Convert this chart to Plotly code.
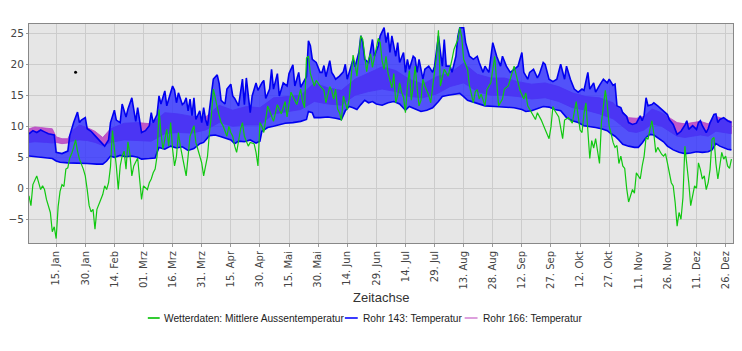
import pandas as pd
import plotly.graph_objects as go

BASE = pd.Timestamp("2011-01-01")

# ---- Rohr 143 (blue band): upper and lower envelope, (day-of-year, °C)
r143_top_day = [0,2,4,6,8,10,13,14,17,20,21,22,23,25,26,27,29,30,32,34,36,38,39,41,42,44,45,47,48,50,51,53,54,55,56,57,58,60,62,63,64,66,67,68,70,71,72,74,75,76,77,79,80,81,82,83,84,85,86,88,89,90,91,92,94,95,97,98,99,101,102,104,105,106,108,110,111,112,114,115,117,118,120,121,122,124,125,126,128,129,131,133,134,136,137,139,140,142,143,144,145,146,148,150,151,152,153,155,156,157,158,160,162,163,164,165,167,168,170,171,172,173,175,177,178,180,181,183,184,185,186,187,189,190,191,193,194,195,196,198,199,200,201,203,204,206,208,209,211,212,213,214,215,217,218,220,221,222,224,225,227,229,231,232,234,235,237,239,241,243,244,246,248,250,252,254,255,257,258,260,262,263,265,266,268,270,272,274,276,277,279,281,283,285,286,288,289,291,292,294,296,298,299,301,302,303,305,306,308,309,311,313,315,316,317,318,319,321,322,324,326,327,329,330,332,334,336,338,339,340,342,344,345,346,347,349,350,351,353,354,355,356,358,360,362]
r143_top_val = [8.8,9.3,9.0,9.4,9.1,8.8,8.6,5.8,5.6,6.0,8.5,9.8,10.6,12.3,10.6,11.0,11.4,9.6,9.2,8.5,7.8,7.2,6.8,7.8,10.6,12.6,11.0,10.6,13.6,11.5,12.8,14.6,12.3,10.8,13.0,11.0,9.0,9.3,10.1,12.2,10.6,11.9,14.9,13.6,15.7,13.3,14.3,16.5,15.8,13.8,15.4,13.5,13.8,14.6,12.5,14.4,11.7,14.6,11.1,12.5,10.6,13.0,11.1,10.1,15.2,17.6,18.3,16.9,14.2,13.6,16.0,16.8,14.9,14.5,13.3,17.6,13.5,17.8,12.2,14.9,17.0,15.8,17.0,17.4,14.5,16.0,19.2,16.0,18.5,14.9,17.0,16.5,18.5,19.9,16.5,18.7,16.3,17.6,18.0,23.8,23.0,20.8,20.3,18.7,18.7,19.8,18.0,20.6,18.7,18.2,17.6,18.1,18.8,20.0,17.6,18.7,20.8,19.6,21.9,24.6,23.5,20.8,20.3,24.0,21.3,23.0,24.6,25.9,23.5,25.1,21.9,24.6,21.3,23.5,20.3,21.9,18.7,20.8,19.2,21.3,21.0,18.7,20.8,17.6,19.2,19.7,18.7,19.7,24.6,22.0,19.7,24.0,19.7,19.7,18.7,21.3,24.5,25.9,25.9,23.5,21.3,20.8,21.3,20.3,18.7,19.7,18.7,23.5,21.3,19.7,21.3,19.7,18.7,19.2,19.7,21.9,18.7,17.6,18.7,19.2,17.8,18.4,20.3,20.0,17.6,17.2,17.6,20.0,17.6,19.7,17.6,16.0,15.5,16.0,15.8,18.7,16.0,17.0,15.5,16.6,17.6,17.0,17.6,16.6,16.8,13.3,13.0,12.2,11.6,10.6,10.3,10.5,11.7,10.9,11.8,14.6,13.3,13.5,13.8,13.3,12.8,12.5,11.9,11.1,10.3,8.7,9.2,10.2,10.9,9.5,10.1,9.5,10.6,10.9,10.1,9.0,9.6,10.6,11.9,12.0,10.6,11.1,11.4,10.9,10.6]

r143_low_day = [0,4,8,12,14,16,20,25,30,35,38,40,42,44,47,50,53,56,58,62,65,66,67,70,73,76,79,82,85,88,90,93,96,99,102,104,106,108,111,114,117,119,120,123,126,129,132,136,140,143,144,146,147,150,154,158,161,163,165,167,169,171,173,175,177,179,182,185,188,191,193,194,196,199,202,205,208,211,213,216,219,222,224,226,229,232,235,240,245,250,254,256,259,262,265,268,271,274,277,280,283,286,289,292,295,298,300,302,304,306,309,312,314,316,318,320,322,325,327,329,332,335,338,341,344,347,350,352,354,356,358,360,362]
r143_low_val = [5.2,5.1,5.0,4.8,4.4,4.2,4.1,4.1,4.0,3.9,3.9,4.4,5.2,5.0,5.3,5.1,5.2,5.0,4.7,4.8,4.9,5.8,6.6,6.3,6.8,6.5,6.7,6.1,6.4,7.2,7.4,8.5,8.6,8.3,8.0,7.8,7.2,7.6,7.5,7.8,7.3,7.6,9.2,9.8,10.0,10.3,10.5,10.6,10.8,11.1,12.4,12.2,11.4,11.4,11.5,11.3,11.1,12.5,13.2,13.0,12.7,13.5,14.2,13.8,14.0,13.6,13.4,13.8,14.0,13.6,13.0,12.6,13.2,12.8,12.4,12.6,13.0,14.0,14.8,15.0,15.2,15.3,14.8,14.2,13.9,13.6,13.3,13.2,13.1,13.0,12.7,12.4,12.5,12.8,13.2,13.1,12.7,12.5,11.4,10.9,10.6,10.1,10.0,9.8,9.6,9.3,8.8,8.4,7.8,7.1,6.8,6.6,6.6,7.3,8.2,8.7,8.6,7.9,7.5,6.8,6.2,5.8,5.6,5.7,5.9,5.8,5.9,6.2,7.2,6.8,6.5,6.3,6.2]

# ---- Rohr 166 (pink band): upper and lower envelope
r166_day = [0,3,6,9,12,14,17,20,22,26,30,34,38,42,49,56,63,70,77,84,91,98,105,112,119,126,133,140,147,154,161,168,175,182,189,196,203,210,217,224,231,238,245,252,259,266,273,280,287,294,301,305,309,313,317,321,326,330,334,338,342,346,350,354,358,362]
r166_top = [9.6,9.9,9.8,9.7,9.6,8.3,8.0,8.0,9.2,10.2,9.8,9.2,8.2,9.6,10.5,10.6,10.4,12.2,12.0,11.6,11.5,13.4,12.6,13.2,13.0,14.6,14.8,15.0,17.0,16.2,15.8,17.6,18.6,19.6,19.0,17.6,16.8,18.0,18.6,20.2,18.4,17.8,17.8,17.2,16.8,17.0,16.4,15.4,14.8,14.6,13.8,12.6,11.4,11.3,11.6,12.8,12.2,11.4,10.6,10.4,10.6,10.8,10.4,11.6,11.2,10.8]
r166_low = [7.4,7.5,7.5,7.4,7.3,7.4,7.2,7.3,7.6,7.8,7.7,7.4,6.9,7.4,7.8,7.7,7.6,8.8,9.0,8.9,9.4,10.6,10.0,10.2,10.2,12.0,12.3,12.7,14.0,13.6,13.4,15.0,15.6,16.0,15.6,14.8,14.6,15.2,16.4,17.0,15.6,15.0,15.0,14.8,14.4,14.6,14.0,13.0,12.6,12.0,11.2,10.2,9.2,9.0,9.4,10.4,10.0,9.2,8.4,8.2,8.4,8.6,8.4,9.2,9.0,8.8]

# ---- Wetterdaten: mittlere Aussentemperatur (green line)
wetter_day = [0,1,2,4,6,7,8,9,11,12,13,14,15,16,17,18,19,20,21,22,23,24,25,26,28,29,30,31,32,33,34,35,37,38,39,40,41,42,43,44,45,46,47,48,49,50,51,52,53,54,56,57,58,59,61,62,63,64,65,66,67,68,69,70,71,72,73,74,75,76,77,78,79,81,82,83,85,86,87,88,89,90,91,92,93,94,95,96,98,99,100,102,103,104,105,106,107,109,110,111,113,114,116,117,118,119,120,121,123,124,126,128,130,132,133,135,137,138,140,141,142,143,144,145,147,148,150,152,153,155,156,157,158,159,160,161,162,164,165,167,168,169,170,171,172,173,174,175,176,177,178,180,181,182,183,184,185,187,188,189,190,191,192,193,194,195,196,197,198,199,200,201,202,203,204,206,207,208,209,210,211,212,214,216,218,219,221,222,223,224,226,227,229,230,231,232,233,235,236,238,240,241,242,244,245,247,250,251,253,255,256,257,259,261,262,264,266,268,269,270,271,273,275,276,278,280,282,283,284,285,286,287,288,289,290,291,292,293,294,295,296,297,298,299,300,301,302,303,304,305,306,307,308,309,310,311,312,313,314,315,316,317,318,319,320,321,322,323,324,325,326,327,328,329,330,331,332,333,334,335,336,337,338,339,340,341,342,343,344,345,346,347,348,349,350,351,352,353,354,355,356,357,358,359,360,361,362]
wetter_val = [-1.2,-2.8,0.6,2.0,-0.2,0.4,-0.2,-1.8,-3.9,-7.0,-6.2,-8.1,-3.0,-0.5,0.6,0.3,3.1,3.3,4.9,5.6,6.6,7.8,6.0,4.7,3.1,2.0,-0.2,-2.8,-3.8,-3.4,-6.6,-3.4,-1.8,-1.0,0.4,-0.2,0.9,3.5,9.3,6.8,3.6,-0.2,3.6,5.2,6.0,3.1,7.5,5.5,2.0,3.6,4.9,1.5,-1.8,0.4,-0.2,0.9,1.5,2.5,3.1,5.2,12.7,9.0,6.3,7.9,9.5,6.8,10.6,6.3,3.6,5.2,9.0,6.8,5.2,2.0,5.2,8.4,10.1,7.4,6.3,5.2,4.1,2.0,3.5,5.2,9.0,11.7,16.0,14.4,11.7,10.6,10.1,8.4,10.0,9.0,8.4,6.8,5.8,9.5,10.6,8.4,6.8,7.4,7.2,5.8,3.6,10.6,10.0,9.0,13.3,12.5,10.8,13.5,12.0,14.0,11.5,15.5,14.0,13.5,16.0,14.0,13.0,21.0,21.3,18.5,16.5,17.4,16.5,15.8,13.8,16.4,15.8,14.4,16.0,12.8,12.2,10.9,14.9,12.7,14.4,21.5,20.0,18.1,21.3,24.6,24.0,20.8,18.8,20.8,21.7,19.5,21.0,24.2,23.5,20.5,19.2,21.3,18.6,16.2,18.5,13.8,15.0,17.0,15.5,14.7,12.2,16.5,19.0,14.2,16.5,19.7,16.3,13.3,14.2,17.6,16.5,15.0,13.8,16.3,18.1,21.3,25.5,16.5,19.2,18.1,20.8,22.4,24.0,25.9,24.4,20.8,19.2,16.5,13.8,15.6,15.9,14.4,15.2,13.3,15.9,17.0,21.3,16.5,13.3,14.4,16.0,16.5,19.7,18.4,15.8,14.4,15.4,13.3,12.2,11.1,12.2,11.0,9.5,8.0,9.9,13.2,12.5,11.5,8.0,11.0,11.4,10.5,14.0,12.0,9.4,9.0,12.0,13.8,9.0,4.8,7.7,6.5,8.0,5.8,4.0,10.6,13.0,15.8,13.5,10.0,8.8,7.4,6.6,6.9,4.0,5.2,3.6,3.2,0.0,-2.2,-1.2,-0.2,-0.8,2.5,2.0,1.5,3.6,5.2,8.2,7.9,9.5,10.9,8.8,5.8,6.6,6.0,5.5,5.2,5.6,4.1,2.5,0.9,0.4,-2.3,-6.1,-3.9,-5.0,-1.5,6.8,4.0,0.9,-2.8,-1.2,0.4,0.0,4.1,3.0,1.5,2.0,-0.2,0.9,3.1,7.9,8.2,4.0,1.5,3.6,5.8,4.7,5.2,3.6,3.2,4.7]

# ---- single stray reading
stray_day = [24]
stray_val = [18.7]

# ---- axis ticks
tick_dates = ["2011-01-15","2011-01-30","2011-02-14","2011-03-01","2011-03-16","2011-03-31",
              "2011-04-15","2011-04-30","2011-05-15","2011-05-30","2011-06-14","2011-06-29",
              "2011-07-14","2011-07-29","2011-08-13","2011-08-28","2011-09-12","2011-09-27",
              "2011-10-12","2011-10-27","2011-11-11","2011-11-26","2011-12-11","2011-12-26"]
tick_text = ["15. Jan","30. Jan","14. Feb","01. Mrz","16. Mrz","31. Mrz","15. Apr","30. Apr",
             "15. Mai","30. Mai","14. Jun","29. Jun","14. Jul","29. Jul","13. Aug","28. Aug",
             "12. Sep","27. Sep","12. Okt","27. Okt","11. Nov","26. Nov","11. Dez","26. Dez"]
y_ticks = [-5, 0, 5, 10, 15, 20, 25]

legend_names = ["Wetterdaten: Mittlere Aussentemperatur", "Rohr 143: Temperatur", "Rohr 166: Temperatur"]


def to_dates(days):
    return BASE + pd.to_timedelta(days, unit="D")


def band_polygon(top_days, top_vals, low_days, low_vals):
    xs = list(to_dates(top_days)) + list(to_dates(low_days))[::-1]
    ys = list(top_vals) + list(low_vals)[::-1]
    return xs, ys


fig = go.Figure()

# pink band (Rohr 166)
pxs, pys = band_polygon(r166_day, r166_top, r166_day, r166_low)
fig.add_trace(go.Scatter(x=pxs, y=pys, mode="lines", fill="toself",
                         fillcolor="rgb(192,88,200)",
                         line=dict(color="#B848C4", width=0.8), hoverinfo="skip", showlegend=False))
# blue band (Rohr 143)
bxs, bys = band_polygon(r143_top_day, r143_top_val, r143_low_day, r143_low_val)
fig.add_trace(go.Scatter(x=bxs, y=bys, mode="lines", fill="toself",
                         fillcolor="rgba(45,45,255,0.8)",
                         line=dict(width=0), hoverinfo="skip", showlegend=False))
fig.add_trace(go.Scatter(x=to_dates(r143_low_day), y=r143_low_val, mode="lines",
                         line=dict(color="#0000F0", width=1.6), hoverinfo="skip", showlegend=False))
fig.add_trace(go.Scatter(x=to_dates(r143_top_day), y=r143_top_val, mode="lines",
                         line=dict(color="#0000F0", width=1.6), hoverinfo="skip", showlegend=False))
# green line
fig.add_trace(go.Scatter(x=to_dates(wetter_day), y=wetter_val, mode="lines",
                         line=dict(color="#10C810", width=1.2), showlegend=False))
# stray point
fig.add_trace(go.Scatter(x=to_dates(stray_day), y=stray_val, mode="markers",
                         marker=dict(color="black", size=3), showlegend=False))

W, H = 742, 351
ML, MR, MT, MB = 23, 8, 24, 108
PW, PH = W - ML - MR, H - MT - MB


def px(xpix):
    return (xpix - ML) / PW


def py(ypix):
    return (H - MB - ypix) / PH


# manual legend
leg_y = py(318)
leg_items = [(143, 155, 157, "#33CC33"), (342, 355, 358, "#3A3AFF"), (463, 476, 479, "#DDA0DD")]
shapes = []
annotations = []
for (x0, x1, xt, col), name in zip(leg_items, legend_names):
    shapes.append(dict(type="line", xref="paper", yref="paper", x0=px(x0), x1=px(x1),
                       y0=leg_y, y1=leg_y, line=dict(color=col, width=2)))
    annotations.append(dict(xref="paper", yref="paper", x=px(xt), y=leg_y, text=name,
                            showarrow=False, xanchor="left", yanchor="middle",
                            font=dict(family="Liberation Sans, Arial", size=10.2, color="#222")))
annotations.append(dict(xref="paper", yref="paper", x=0.5, y=py(297), text="Zeitachse",
                        showarrow=False, xanchor="center", yanchor="middle",
                        font=dict(family="Liberation Sans, Arial", size=13, color="#333")))

fig.update_layout(
    width=W, height=H,
    margin=dict(l=ML, r=MR, t=MT, b=MB),
    paper_bgcolor="white",
    plot_bgcolor="#E6E6E6",
    shapes=shapes,
    annotations=annotations,
    showlegend=False,
    font=dict(family="DejaVu Sans, Liberation Sans", size=10, color="#444"),
)
fig.update_xaxes(
    type="date",
    range=[BASE, BASE + pd.Timedelta(days=362.8)],
    tickvals=tick_dates, ticktext=tick_text, tickangle=-90,
    tickfont=dict(size=10, color="#444"),
    showgrid=True, gridcolor="#CCCCCC", gridwidth=1,
    ticks="outside", ticklen=3, tickcolor="#999",
    showline=True, linecolor="#888", linewidth=1, mirror=True,
    zeroline=False,
)
fig.update_yaxes(
    range=[-8.82, 26.5],
    tickvals=y_ticks,
    tickfont=dict(size=10.5, color="#444"),
    showgrid=True, gridcolor="#CCCCCC", gridwidth=1,
    ticks="outside", ticklen=2, tickcolor="#999",
    showline=True, linecolor="#888", linewidth=1, mirror=True,
    zeroline=False,
)

fig.write_html("out.html")
